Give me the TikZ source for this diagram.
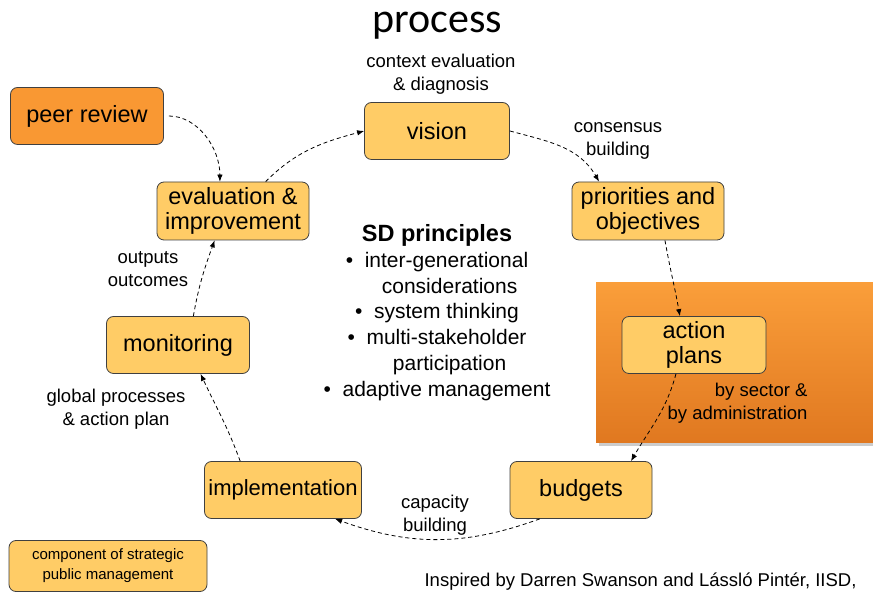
\documentclass[tikz,border=0pt]{standalone}
\usepackage{fontspec}
\setmainfont{Liberation Sans}
\newfontfamily\titlefont{Carlito}
\usetikzlibrary{arrows.meta,shadows,positioning}
\definecolor{boxfill}{HTML}{FFCC66}
\definecolor{peerfill}{HTML}{F99833}
\definecolor{paneltop}{HTML}{FA9E3A}
\definecolor{panelbottom}{HTML}{E07820}
\definecolor{boxline}{HTML}{404040}

\begin{document}
\begin{tikzpicture}[x=1pt,y=1pt,
  stage/.style={draw=boxline, fill=boxfill, line width=0.8pt, rounded corners=7pt, align=center, inner sep=0pt, font=\fontsize{23.5}{25.5}\selectfont},
  note/.style={align=center, font=\fontsize{18.5}{22.5}\selectfont},
  flow/.style={line width=0.8pt, dash pattern=on 4pt off 3pt, -{Latex[length=7pt,width=5.5pt]}}]
\useasboundingbox[fill=white] (0,0) rectangle (873,594);

\node[anchor=base, inner sep=0pt, font=\titlefont\fontsize{42}{42}\selectfont] (title) at (437,561) {process};

% panel behind action plans
\path[top color=paneltop, bottom color=panelbottom, drop shadow={shadow xshift=3pt, shadow yshift=-3pt, opacity=.4}] (596,151) rectangle (873,311);

\node[stage, minimum width=145, minimum height=57] (vision) at (437,463) {vision};
\node[stage, minimum width=152, minimum height=58] (prior) at (648,383) {priorities and\\objectives};
\node[stage, minimum width=144, minimum height=57] (action) at (694,249) {action\\plans};
\node[stage, minimum width=142, minimum height=57] (budgets) at (581,104) {budgets};
\node[stage, minimum width=157, minimum height=57, font=\fontsize{22}{25}\selectfont] (impl) at (283,104) {implementation};
\node[stage, minimum width=143, minimum height=57] (monit) at (178,249) {monitoring};
\node[stage, minimum width=152, minimum height=58] (eval) at (233,383) {evaluation \&\\improvement};
\node[stage, fill=peerfill, minimum width=153, minimum height=57] (peer) at (87,478) {peer review};
\node[stage, minimum width=198, minimum height=51, font=\fontsize{15}{20}\selectfont] (legend) at (108,28) {component of strategic\\public management};

\node[note] (ctx) at (441,520) {context evaluation\\\& diagnosis};
\node[note] (consensus) at (618,453) {consensus\\building};
\node[note, align=right, anchor=east] (sector) at (811,191) {by sector \&\\by administration};
\node[note] (capacity) at (435,79) {capacity\\building};
\node[note] (global) at (116,185) {global processes\\\& action plan};
\node[note] (outputs) at (148,325) {outputs\\outcomes};

\node[align=center, anchor=north, font=\fontsize{21}{25.8}\selectfont] (sd) at (437,373)
  {{\bfseries\fontsize{23.5}{25}\selectfont SD principles}\\
   \textbullet\ \ inter-generational\\
   \hspace*{1.2em}considerations\\
   \textbullet\ \ system thinking\\
   \textbullet\ \ multi-stakeholder\\
   \hspace*{1.2em}participation\\
   \textbullet\ \ adaptive management};

\node[anchor=east, font=\fontsize{18.5}{20}\selectfont] (credit) at (860,12) {Inspired by Darren Swanson and Lássló Pintér, IISD,};

\draw[flow, shorten <=5pt] (peer.east) to[out=0, in=90] (eval.114);
\draw[flow] (eval.42) to[out=45, in=195] (vision.west);
\draw[flow] (vision.east) to[out=-15, in=120] (prior.149);
\draw[flow] (prior.-60) to[out=-80, in=100] (action.116);
\draw[flow] (action.-122) to[out=-105, in=60] (budgets.30);
\draw[flow] (budgets.-145) to[out=-160, in=-20] (impl.-29);
\draw[flow] (impl.146) to[out=110, in=-65] (monit.-52);
\draw[flow] (monit.62) to[out=80, in=-110] (eval.-122);
\end{tikzpicture}
\end{document}
